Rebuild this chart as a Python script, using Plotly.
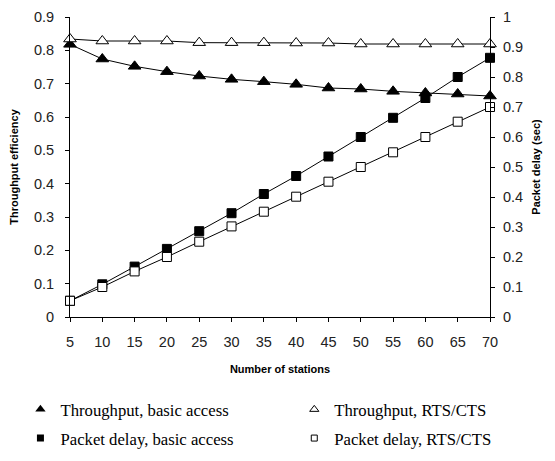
import plotly.graph_objects as go

stations = [5, 10, 15, 20, 25, 30, 35, 40, 45, 50, 55, 60, 65, 70]
thr_basic = [0.818, 0.774, 0.752, 0.736, 0.723, 0.713, 0.706, 0.698, 0.687, 0.684, 0.677, 0.672, 0.669, 0.663]
thr_rts = [0.834, 0.828, 0.828, 0.828, 0.823, 0.823, 0.823, 0.822, 0.822, 0.819, 0.819, 0.819, 0.819, 0.819]
delay_basic = [0.054, 0.109, 0.168, 0.227, 0.286, 0.346, 0.410, 0.470, 0.535, 0.600, 0.664, 0.730, 0.800, 0.864]
delay_rts = [0.054, 0.100, 0.152, 0.200, 0.251, 0.302, 0.351, 0.401, 0.451, 0.500, 0.549, 0.600, 0.651, 0.700]

left_ticks = [0, 0.1, 0.2, 0.3, 0.4, 0.5, 0.6, 0.7, 0.8, 0.9]
right_ticks = [0, 0.1, 0.2, 0.3, 0.4, 0.5, 0.6, 0.7, 0.8, 0.9, 1]

names = ["Throughput, basic access", "Throughput, RTS/CTS",
         "Packet delay, basic access", "Packet delay, RTS/CTS"]
legend_ids = ["legend", "legend2", "legend", "legend2"]

fig = go.Figure()
line = dict(color="black", width=1)
series = [
    (thr_basic, "y", dict(symbol="triangle-up", size=11, color="black", line=dict(color="black", width=1))),
    (thr_rts, "y", dict(symbol="triangle-up", size=11, color="white", line=dict(color="black", width=1))),
    (delay_basic, "y2", dict(symbol="square", size=9, color="black", line=dict(color="black", width=1))),
    (delay_rts, "y2", dict(symbol="square", size=9, color="white", line=dict(color="black", width=1))),
]
for vals, ax, mk in series:
    fig.add_trace(go.Scatter(x=stations, y=vals, yaxis=ax, mode="lines+markers",
                             line=line, marker=mk, showlegend=False, cliponaxis=False))

legend_markers = [
    dict(symbol="triangle-up", size=9, color="black"),
    dict(symbol="triangle-up-open", size=8, color="black", line=dict(width=1)),
    dict(symbol="square", size=7, color="black"),
    dict(symbol="square-open", size=6, color="black", line=dict(width=1)),
]
for i, (nm, mk, lg) in enumerate(zip(names, legend_markers, legend_ids)):
    fig.add_trace(go.Scatter(x=[None], y=[None], mode="markers", marker=mk, name=nm,
                             showlegend=True, legend=lg, legendgroup=f"g{i}"))

tickfont = dict(family="Liberation Sans, Arial", size=14.5, color="#222")
titlefont = dict(family="Liberation Sans, Arial", size=11, color="black")
legfont = dict(family="Liberation Serif, Times New Roman", size=16.7, color="black")

fig.update_layout(
    width=555, height=461,
    margin=dict(l=62, r=73, t=9, b=152, autoexpand=False),
    paper_bgcolor="white", plot_bgcolor="white",
    xaxis=dict(range=[5, 70], tickvals=stations, showgrid=False, zeroline=False,
               showline=True, linecolor="black", linewidth=1,
               ticks="outside", ticklen=4, tickcolor="black", tickfont=tickfont,
               ticklabelstandoff=8, ticklabeloverflow="allow",
               title=dict(text="<b>Number of stations</b>", font=titlefont, standoff=15)),
    yaxis=dict(range=[0, 0.9], tickvals=left_ticks, ticktext=[f"{v:g}" for v in left_ticks],
               showgrid=False, zeroline=False, showline=True, linecolor="black", linewidth=1,
               ticks="outside", ticklen=4, tickcolor="black", tickfont=tickfont,
               ticklabelstandoff=8, ticklabeloverflow="allow",
               title=dict(text="<b>Throughput efficiency</b>", font=titlefont, standoff=14)),
    yaxis2=dict(range=[0, 1], tickvals=right_ticks, ticktext=[f"{v:g}" for v in right_ticks],
                overlaying="y", side="right",
                showgrid=False, zeroline=False, showline=True, linecolor="black", linewidth=1,
                ticks="outside", ticklen=4, tickcolor="black", tickfont=tickfont,
                ticklabelstandoff=5, ticklabeloverflow="allow",
                title=dict(text="<b>Packet delay (sec)</b>", font=titlefont, standoff=10)),
    legend=dict(orientation="v", x=-0.118, xanchor="left", y=-0.25, yanchor="top",
                font=legfont, tracegroupgap=4, bgcolor="rgba(0,0,0,0)"),
    legend2=dict(orientation="v", x=0.534, xanchor="left", y=-0.25, yanchor="top",
                 font=legfont, tracegroupgap=4, bgcolor="rgba(0,0,0,0)"),
)

fig.write_html("out.html")
